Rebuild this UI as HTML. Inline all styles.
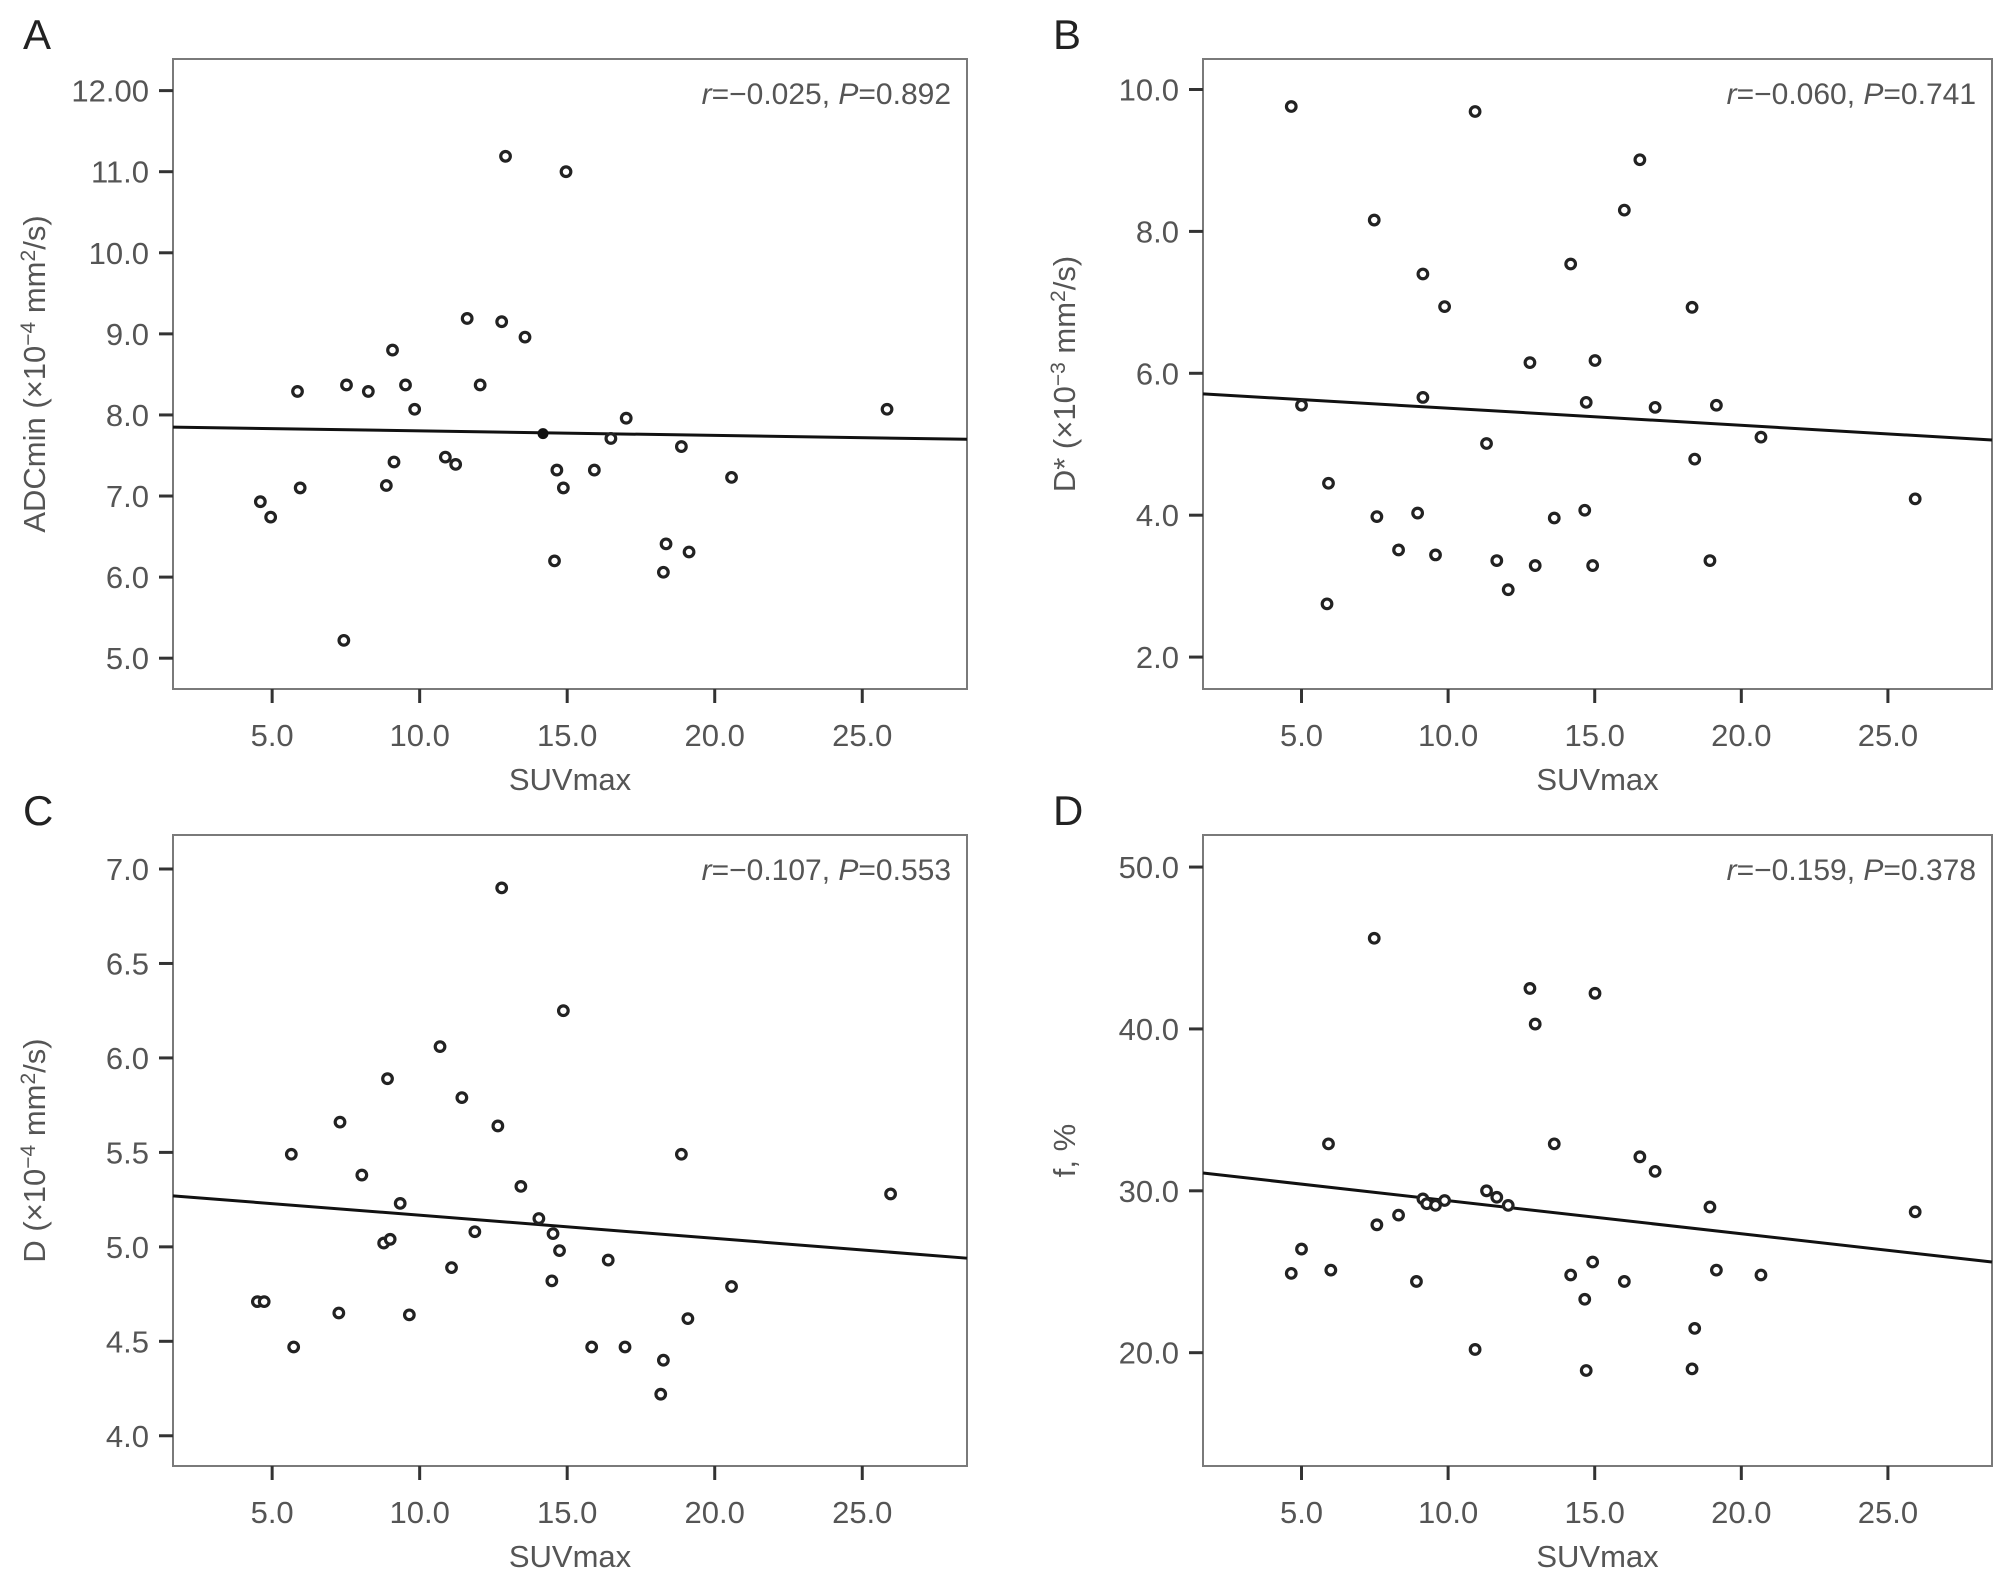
<!DOCTYPE html>
<html><head><meta charset="utf-8"><style>
html,body{margin:0;padding:0;background:#fff;}
svg{display:block;font-family:"Liberation Sans",sans-serif;}
</style></head><body>
<svg id="fig" width="2008" height="1574" viewBox="0 0 2008 1574"></svg>
<script>
const xDomain=[1.64,28.55];
// Panel A
const xA=[4.6,4.95,5.86,5.95,7.52,7.43,8.26,8.87,9.08,9.13,9.52,9.83,10.87,11.22,11.61,12.05,12.78,12.91,13.57,14.65,14.57,14.87,14.96,15.92,16.48,17.0,18.87,18.26,18.35,19.13,20.57,25.84];
const yA=[6.93,6.74,8.29,7.10,8.37,5.22,8.29,7.13,8.80,7.42,8.37,8.07,7.48,7.39,9.19,8.37,9.15,11.19,8.96,7.32,6.20,7.10,11.00,7.32,7.71,7.96,7.61,6.06,6.41,6.31,7.23,8.07];
const fitA=[7.85,7.70];
const ticksA=[12,11,10,9,8,7,6,5];
const tickLabelsA=["12.00","11.0","10.0","9.0","8.0","7.0","6.0","5.0"];
// Panel B
const xB=[4.65,5.0,5.92,5.87,7.48,7.57,8.31,8.96,9.14,9.14,9.57,9.88,10.92,11.31,11.66,12.05,12.79,12.97,13.62,14.18,14.66,14.71,14.93,15.01,16.01,16.54,17.06,18.32,18.41,18.93,19.15,20.67,25.93];
const yB=[9.76,5.55,4.45,2.75,8.16,3.98,3.51,4.03,7.40,5.66,3.44,6.94,9.69,5.01,3.36,2.95,6.15,3.29,3.96,7.54,4.07,5.59,3.29,6.18,8.30,9.01,5.52,6.93,4.79,3.36,5.55,5.10,4.23];
const fitB=[5.71,5.06];
const ticksB=[10,8,6,4,2];
const tickLabelsB=["10.0","8.0","6.0","4.0","2.0"];
// Panel C
const xC=[4.5,4.73,5.73,5.65,7.26,7.30,8.04,8.78,9.0,8.91,9.34,9.65,10.69,11.08,11.43,11.87,12.65,12.78,13.43,14.04,14.52,14.48,14.74,14.87,15.83,16.39,16.96,18.26,18.17,18.87,19.09,20.57,25.96];
const yC=[4.71,4.71,4.47,5.49,4.65,5.66,5.38,5.02,5.04,5.89,5.23,4.64,6.06,4.89,5.79,5.08,5.64,6.90,5.32,5.15,5.07,4.82,4.98,6.25,4.47,4.93,4.47,4.40,4.22,5.49,4.62,4.79,5.28];
const fitC=[5.27,4.94];
const ticksC=[7,6.5,6,5.5,5,4.5,4];
const tickLabelsC=["7.0","6.5","6.0","5.5","5.0","4.5","4.0"];
// Panel D
const xD=[4.65,5.0,5.92,6.0,7.48,7.57,8.31,8.92,9.14,9.27,9.57,9.88,10.92,11.31,11.66,12.05,12.79,12.97,13.62,14.18,14.66,14.71,14.93,15.01,16.01,16.54,17.06,18.32,18.41,18.93,19.15,20.67,25.93];
const yD=[24.9,26.4,32.9,25.1,45.6,27.9,28.5,24.4,29.5,29.2,29.1,29.4,20.2,30.0,29.6,29.1,42.5,40.3,32.9,24.8,23.3,18.9,25.6,42.2,24.4,32.1,31.2,19.0,21.5,29.0,25.1,24.8,28.7];
const fitD=[31.1,25.6];
const ticksD=[50,40,30,20];
const tickLabelsD=["50.0","40.0","30.0","20.0"];
const xTicks=[5,10,15,20,25];
const xTickLabels=["5.0","10.0","15.0","20.0","25.0"];

const NS="http://www.w3.org/2000/svg";
const svg=document.getElementById('fig');
function mk(tag,attrs,parent){const e=document.createElementNS(NS,tag);for(const k in attrs)e.setAttribute(k,attrs[k]);(parent||svg).appendChild(e);return e;}

function panel(cfg){
  const {id,L,R,T,B,yDom,xs,ys,fit,ticks,labels,letter,ytitle,ann1,ann2,filled}=cfg;
  const g=mk('g',{});
  
  
  const sx=v=>L+(v-xDomain[0])/(xDomain[1]-xDomain[0])*(R-L);
  const sy=v=>B-(v-yDom[0])/(yDom[1]-yDom[0])*(B-T);
  const box=mk('rect',{x:L,y:T,width:R-L,height:B-T,fill:'none',stroke:'#7a7a7a','stroke-width':2},g);
  
  
  ticks.forEach((t,i)=>{
    const y=sy(t);
    const tk=mk('line',{x1:L-14,x2:L,y1:y,y2:y,stroke:'#333','stroke-width':3},g);
    
    
    const tx=mk('text',{x:L-24,y:y+11,'text-anchor':'end','font-size':31,fill:'#555'},g);
    tx.textContent=labels[i];
    
    
  });
  xTicks.forEach((t,i)=>{
    const x=sx(t);
    const tk=mk('line',{x1:x,x2:x,y1:B,y2:B+14,stroke:'#333','stroke-width':3},g);
    
    
    const tx=mk('text',{x:x,y:B+57,'text-anchor':'middle','font-size':31,fill:'#555'},g);
    tx.textContent=xTickLabels[i];
    
    
  });
  const xt=mk('text',{x:(L+R)/2,y:B+101,'text-anchor':'middle','font-size':31,fill:'#555'},g);
  xt.textContent='SUVmax';
  
  
  const yt=mk('text',{x:0,y:0,'text-anchor':'middle','font-size':31,fill:'#555',transform:`translate(${L-128},${(T+B)/2}) rotate(-90)`},g);
  yt.innerHTML=ytitle;
  
  
  const lt=mk('text',{x:L-150,y:T-10,'font-size':42,fill:'#222'},g);
  lt.textContent=letter;
  
  
  const an=mk('text',{x:R-16,y:T+45,'text-anchor':'end','font-size':30,fill:'#555'},g);
  an.innerHTML=`<tspan font-style="italic">r</tspan>=−${ann1}, <tspan font-style="italic">P</tspan>=${ann2}`;
  
  
  const ln=mk('line',{x1:L,y1:sy(fit[0]),x2:R,y2:sy(fit[1]),stroke:'#111','stroke-width':3},g);
  
  
  xs.forEach((v,i)=>{
    const c=mk('circle',{cx:sx(v),cy:sy(ys[i]),r:4.8,fill:'#fff',stroke:'#222','stroke-width':3.2},g);
    
    
  });
  if(filled){
    const c=mk('circle',{cx:sx(filled[0]),cy:sy(filled[1]),r:5.5,fill:'#111'},g);
    
    
  }
}
panel({id:'a',L:173,R:967,T:59,B:689,yDom:[4.62,12.39],xs:xA,ys:yA,fit:fitA,ticks:ticksA,labels:tickLabelsA,letter:'A',
  ytitle:'ADCmin (×10<tspan dy="-10" font-size="21">−4</tspan><tspan dy="10"> mm</tspan><tspan dy="-10" font-size="21">2</tspan><tspan dy="10">/s)</tspan>',ann1:'0.025',ann2:'0.892',filled:[14.18,7.77]});
panel({id:'b',L:1203,R:1992,T:59,B:689,yDom:[1.55,10.43],xs:xB,ys:yB,fit:fitB,ticks:ticksB,labels:tickLabelsB,letter:'B',
  ytitle:'D* (×10<tspan dy="-10" font-size="21">−3</tspan><tspan dy="10"> mm</tspan><tspan dy="-10" font-size="21">2</tspan><tspan dy="10">/s)</tspan>',ann1:'0.060',ann2:'0.741'});
panel({id:'c',L:173,R:967,T:835,B:1466,yDom:[3.84,7.18],xs:xC,ys:yC,fit:fitC,ticks:ticksC,labels:tickLabelsC,letter:'C',
  ytitle:'D (×10<tspan dy="-10" font-size="21">−4</tspan><tspan dy="10"> mm</tspan><tspan dy="-10" font-size="21">2</tspan><tspan dy="10">/s)</tspan>',ann1:'0.107',ann2:'0.553'});
panel({id:'d',L:1203,R:1992,T:835,B:1466,yDom:[13.0,51.98],xs:xD,ys:yD,fit:fitD,ticks:ticksD,labels:tickLabelsD,letter:'D',
  ytitle:'f, %',ann1:'0.159',ann2:'0.378'});
</script>
</body></html>
